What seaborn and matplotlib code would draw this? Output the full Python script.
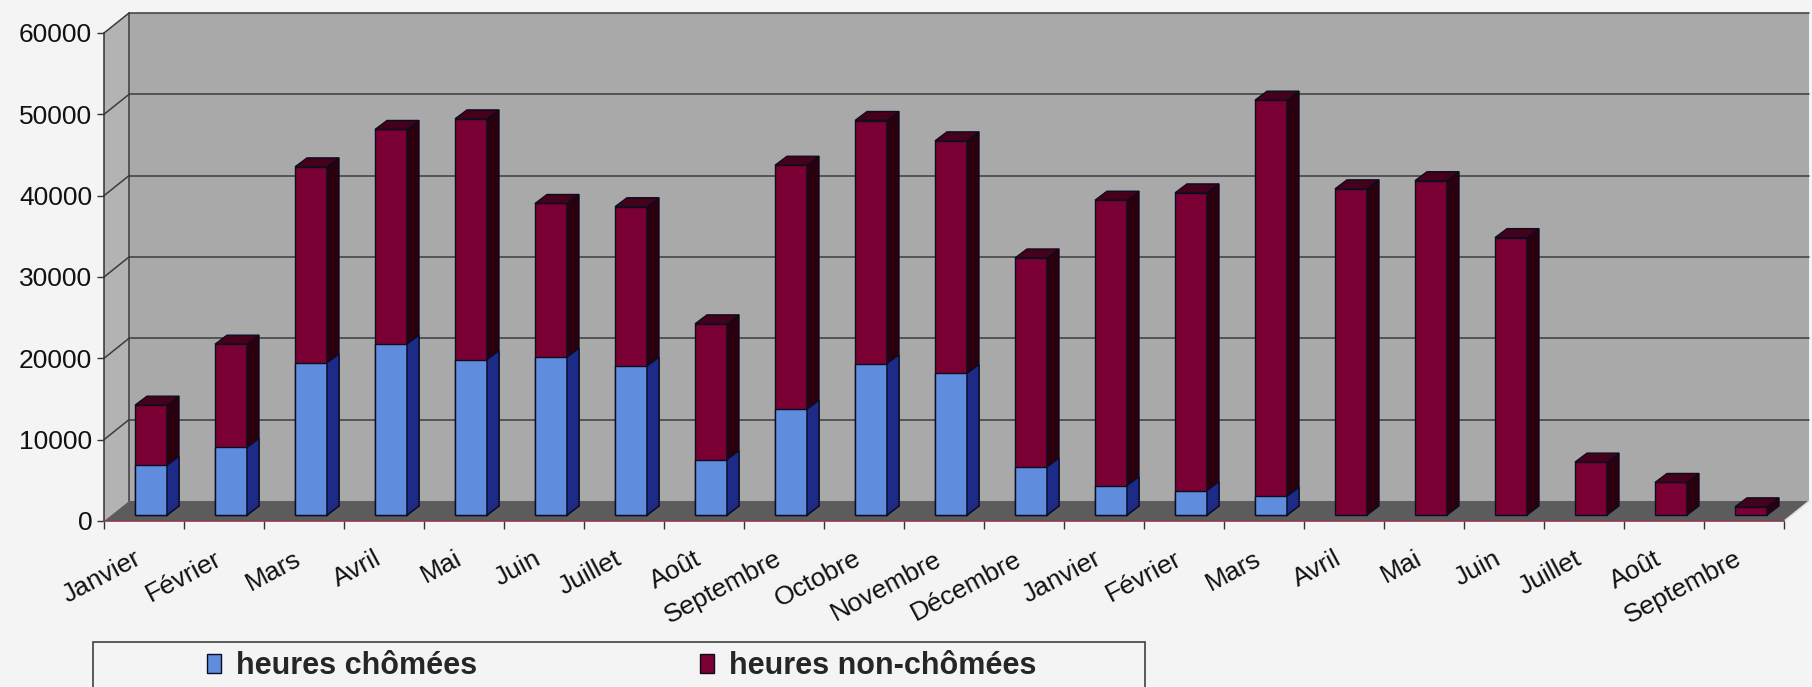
import numpy as np
import pandas as pd
import matplotlib
matplotlib.use("Agg")
import matplotlib.pyplot as plt
import seaborn as sns
from matplotlib.patches import Polygon, Rectangle, Patch
from matplotlib.transforms import offset_copy, ScaledTranslation

# ---------------- data ----------------
mois = ["Janvier", "Février", "Mars", "Avril", "Mai", "Juin", "Juillet", "Août",
        "Septembre", "Octobre", "Novembre", "Décembre", "Janvier", "Février",
        "Mars", "Avril", "Mai", "Juin", "Juillet", "Août", "Septembre"]
heures_chomees = [6100, 8300, 18700, 21000, 19100, 19400, 18300, 6800, 13000,
                  18600, 17400, 5900, 3600, 3000, 2300, 0, 0, 0, 0, 0, 0]
heures_non_chomees = [7400, 12700, 24100, 26400, 29600, 18900, 19600, 16700,
                      30000, 29900, 28600, 25700, 35100, 36600, 48700, 40100,
                      41100, 34100, 6500, 4000, 1000]
y_ticks = [0, 10000, 20000, 30000, 40000, 50000, 60000]
legend_labels = ["heures chômées", "heures non-chômées"]

# ---------------- style ----------------
BG = "#f4f4f4"
WALL = "#a9a9a9"
SIDEWALL = "#b3b3b3"
FLOOR = "#5c5c5c"
GRID = "#3c3c3c"
BLUE = "#5f8cdc"
BLUE_SIDE = "#1c2a88"
RED = "#7a0034"
RED_SIDE = "#2a000f"
RED_TOP = "#45001c"
EDGE = "#0c0c20"

sns.set_theme(style="white")
plt.rcParams["font.family"] = ["Liberation Sans", "DejaVu Sans"]

W, H = 1812, 687
fig = plt.figure(figsize=(W / 100, H / 100), dpi=100, facecolor=BG)
ax_left, ax_right, ax_zero, ax_top = 104, 1784, 521, 33
ax = fig.add_axes([ax_left / W, (H - ax_zero) / H,
                   (ax_right - ax_left) / W, (ax_zero - ax_top) / H])
ax.patch.set_visible(False)

n = len(mois)
ymax = y_ticks[-1]
px_x = (ax_right - ax_left) / n          # pixels per category
px_y = (ax_zero - ax_top) / ymax          # pixels per value unit

# depth of the 3D box (pixels -> data)
DX, DY = 25 / px_x, 20 / px_y
# depth of each bar
BDX, BDY = 12 / px_x, 9 / px_y

totals = np.add(heures_chomees, heures_non_chomees)
df = pd.DataFrame({"idx": np.arange(n), "total": totals,
                   "chom": heures_chomees})

# ---------------- walls & floor ----------------
x0, x1 = -0.5, n - 0.5
ax.add_patch(Polygon([(x0 + DX, DY), (x1 + DX, DY), (x1 + DX, ymax + DY),
                      (x0 + DX, ymax + DY)], closed=True, facecolor=WALL,
                     edgecolor="none", zorder=0, clip_on=False))
ax.add_patch(Polygon([(x0, 0), (x0 + DX, DY), (x0 + DX, ymax + DY), (x0, ymax)],
                     closed=True, facecolor=SIDEWALL, edgecolor="none",
                     zorder=0, clip_on=False))
ax.add_patch(Polygon([(x0, 0), (x1, 0), (x1 + DX, DY), (x0 + DX, DY)],
                     closed=True, facecolor=FLOOR, edgecolor="none",
                     zorder=1, clip_on=False))
for v in y_ticks[1:]:
    ax.plot([x0 + DX, x1 + DX], [v + DY, v + DY], color=GRID, lw=1.1,
            zorder=0.5, clip_on=False)
    ax.plot([x0, x0 + DX], [v, v + DY], color=GRID, lw=1.1, zorder=0.5,
            clip_on=False)
ax.plot([x0 + DX, x0 + DX], [DY, ymax + DY], color=GRID, lw=1.1, zorder=0.5,
        clip_on=False)
ax.plot([x1, x1 + DX], [0, DY], color="#d8d8d8", lw=1.0, zorder=1.2,
        clip_on=False)

# ---------------- bars ----------------
sns.barplot(data=df, x="idx", y="total", color=RED, saturation=1, width=0.4,
            edgecolor=EDGE, linewidth=1.0, ax=ax, zorder=3)
sns.barplot(data=df, x="idx", y="chom", color=BLUE, saturation=1, width=0.4,
            edgecolor=EDGE, linewidth=1.0, ax=ax, zorder=5)

tb = offset_copy(ax.transData, fig=fig, x=7, y=6, units="dots")
red_bars = list(ax.containers[0])
blue_bars = list(ax.containers[1])
for p in red_bars:
    p.set_transform(tb)
    bx, bw, bh = p.get_x(), p.get_width(), p.get_height()
    if bh <= 0:
        continue
    ax.add_patch(Polygon([(bx + bw, 0), (bx + bw, bh), (bx + bw + BDX, bh + BDY),
                          (bx + bw + BDX, BDY)], closed=True, facecolor=RED_SIDE,
                         edgecolor=EDGE, lw=1.0, zorder=3, transform=tb,
                         clip_on=False))
    ax.add_patch(Polygon([(bx, bh), (bx + bw, bh), (bx + bw + BDX, bh + BDY),
                          (bx + BDX, bh + BDY)], closed=True, facecolor=RED_TOP,
                         edgecolor=EDGE, lw=1.0, zorder=3, transform=tb,
                         clip_on=False))
for p in blue_bars:
    p.set_transform(tb)
    bx, bw, bh = p.get_x(), p.get_width(), p.get_height()
    if bh <= 0:
        p.set_visible(False)
        continue
    ax.add_patch(Polygon([(bx + bw, 0), (bx + bw, bh), (bx + bw + BDX, bh + BDY),
                          (bx + bw + BDX, BDY)], closed=True, facecolor=BLUE_SIDE,
                         edgecolor=EDGE, lw=1.0, zorder=5, transform=tb,
                         clip_on=False))
for p in red_bars + blue_bars:
    p.set_clip_on(False)

# ---------------- axes ----------------
ax.set_xlim(x0, x1)
ax.set_ylim(0, ymax)
ax.set_xlabel("")
ax.set_ylabel("")
ax.set_yticks(y_ticks)
ax.set_yticklabels([str(v) for v in y_ticks], fontsize=19, color="#111111")
ax.set_xticks(np.arange(n))
ax.set_xticklabels(mois, rotation=28, ha="right", va="top",
                   rotation_mode="anchor", fontsize=19, color="#111111")
ax.set_xticks(np.arange(-0.5, n, 1), minor=True)
ax.tick_params(axis="x", which="major", length=0, pad=18.5, bottom=True)
ax.tick_params(axis="x", which="minor", length=6, width=1, color="#333333",
               direction="out", bottom=True)
ax.tick_params(axis="y", length=5, width=1, color="#333333", direction="out",
               pad=3.5, left=True)
shift = ScaledTranslation(-10 / 100, 0, fig.dpi_scale_trans)
for lab in ax.get_xticklabels():
    lab.set_transform(lab.get_transform() + shift)

for s in ["top", "right"]:
    ax.spines[s].set_visible(False)
ax.spines["left"].set_color("#333333")
ax.spines["left"].set_linewidth(1.1)
ax.spines["bottom"].set_color("#8a3c4e")
ax.spines["bottom"].set_linewidth(1.2)
ax.spines["left"].set_zorder(2)
ax.spines["bottom"].set_zorder(2)

# ---------------- legend ----------------
handles = [Patch(facecolor=BLUE, edgecolor=EDGE, lw=1.0),
           Patch(facecolor=RED, edgecolor=EDGE, lw=1.0)]
fig.legend(handles, legend_labels, loc="center left",
           bbox_to_anchor=(207 / W, (H - 666) / H), ncol=2, frameon=False,
           prop=dict(family=["Liberation Sans", "DejaVu Sans"], weight="bold",
                     size=22),
           handlelength=0.45, handleheight=0.6, handletextpad=0.5,
           columnspacing=7.3, borderpad=0, borderaxespad=0)
fig.add_artist(Rectangle((93 / W, -0.1), (1145 - 93) / W, (H - 642) / H + 0.1,
                         transform=fig.transFigure, fill=False,
                         edgecolor="#404040", lw=1.2))

fig.savefig("out.png", dpi=100, facecolor=BG)
